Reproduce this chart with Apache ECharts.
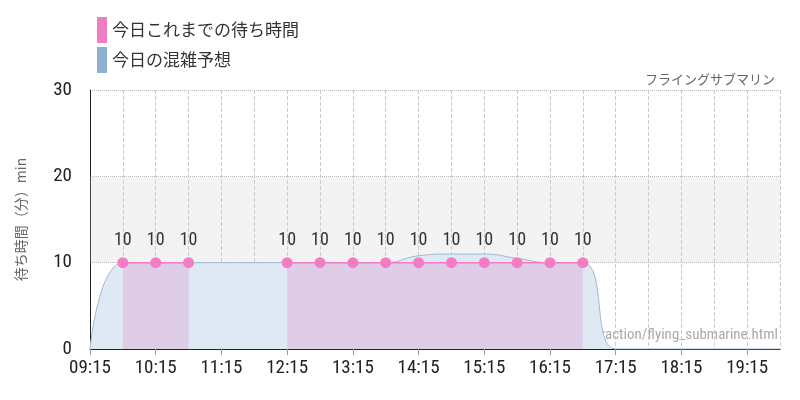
<!DOCTYPE html><html><head><meta charset="utf-8"><script src="https://cdn.jsdelivr.net/npm/echarts@6/dist/echarts.min.js"></script></head><body style="margin:0"><div id="c" style="width:800px;height:400px"></div><script>
const times=['09:15','09:45','10:15','10:45','11:15','11:45','12:15','12:45','13:15','13:45','14:15','14:45','15:15','15:45','16:15','16:45','17:15','17:45','18:15','18:45','19:15','19:45'];
const actual=[null,10,10,10,null,null,10,10,10,10,10,10,10,10,10,10,null,null,null,null,null,null];
const forecast=[0,10,10,10,10,10,10,10,10,10,10.8,11,11,10.5,10,10,0,0,0,0,0,0];
const F="'Liberation Sans Narrow','Roboto Condensed',Roboto,sans-serif";
const ch=echarts.init(document.getElementById('c'));
ch.setOption({
animation:false,
title:{text:'フライングサブマリン',right:20,top:68,textStyle:{fontSize:13,fontWeight:'normal',color:'#666',fontFamily:"'Noto Sans CJK JP'"}},
legend:{orient:'vertical',left:92,top:12,itemWidth:10,itemHeight:26,itemGap:4,icon:'rect',textStyle:{fontSize:17,color:'#333',fontFamily:"'Noto Sans CJK JP'"},data:['今日これまでの待ち時間','今日の混雑予想']},
graphic:[{type:'text',right:22,top:328,style:{text:'https://parksreal.jp/nasuhai/attraction/flying_submarine.html',fill:'#aaa',font:"15px "+F}}],
grid:{left:90,right:20,top:90,bottom:51},
xAxis:{type:'category',data:times,boundaryGap:false,axisLine:{lineStyle:{color:'#222'}},axisTick:{alignWithLabel:true,interval:1,length:6,lineStyle:{color:'#999'}},
 axisLabel:{interval:1,fontSize:19,color:'#222',fontFamily:F,margin:10},
 splitLine:{show:true,interval:0,lineStyle:{type:'dashed',color:'#ccc'}}},
yAxis:{type:'value',min:0,max:30,interval:10,name:'待ち時間（分）min',nameLocation:'middle',nameGap:62,nameTextStyle:{fontSize:14,color:'#666',fontFamily:"'Noto Sans CJK JP'"},
 axisLine:{show:true,lineStyle:{color:'#222'}},axisLabel:{fontSize:19,color:'#222',fontFamily:F,margin:18},splitLine:{lineStyle:{type:'dotted',color:'#bbb'}}},
series:[
{name:'今日の混雑予想',type:'line',data:forecast,smooth:true,symbol:'none',z:1,itemStyle:{color:'#8fb0cf'},lineStyle:{width:1,color:'#9ebad4'},areaStyle:{color:'#dfe9f3',opacity:1},
 markArea:{silent:true,itemStyle:{color:'rgba(200,200,200,0.22)'},data:[[{yAxis:10},{yAxis:20}]]}},
{name:'今日これまでの待ち時間',type:'line',data:actual,symbol:'circle',symbolSize:11,z:3,itemStyle:{color:'#f27dc3'},lineStyle:{width:1.5,color:'#f27dc3'},areaStyle:{color:'rgba(225,150,210,0.5)'},
 label:{show:true,position:'top',distance:8,fontSize:18,color:'#333',fontFamily:F}}
]});
</script></body></html>
